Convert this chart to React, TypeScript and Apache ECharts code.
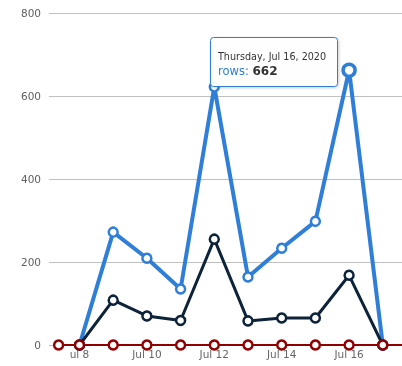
import React, { useEffect, useRef } from "react";
import * as echarts from "echarts";

const days = [8, 9, 10, 11, 12, 13, 14, 15, 16, 17];
const rows = [0, 272, 209, 135, 622, 164, 233, 298, 662, 0];
const darkSeries = [0, 108, 70, 59, 255, 58, 65, 65, 168, 0];
const redDays = [7.38, 8, 9, 10, 11, 12, 13, 14, 15, 16, 17, 18];
const redValues = [0, 0, 0, 0, 0, 0, 0, 0, 0, 0, 0, 0];
const tickDays = [8, 10, 12, 14, 16];
const yTicks = [0, 200, 400, 600, 800];
const tooltipDate = "Thursday, Jul 16, 2020";
const tooltipLabel = "rows: ";
const tooltipValue = "662";
const highlightDay = 16;

export default function App() {
  const ref = useRef<HTMLDivElement>(null);
  useEffect(() => {
    const chart = echarts.init(ref.current!, null, { renderer: "svg" });
    const font = "DejaVu Sans, Verdana, sans-serif";
    const pair = (xs: number[], ys: number[]) => xs.map((x, i) => [x, ys[i]]);
    chart.setOption({
      animation: false,
      grid: { left: 49, right: 0, top: 13, bottom: 21 },
      xAxis: {
        type: "value",
        min: 7.095,
        max: 17.57,
        axisLine: { show: false },
        axisTick: { show: false },
        splitLine: { show: false },
        axisLabel: {
          customValues: tickDays,
          margin: 3,
          color: "#666666",
          fontFamily: font,
          fontSize: 10.5,
          formatter: (v: number) => (v === 8 ? "ul 8" : "Jul " + v),
        },
      },
      yAxis: {
        type: "value",
        min: yTicks[0],
        max: yTicks[yTicks.length - 1],
        interval: 200,
        axisLine: { show: false },
        axisTick: { show: false },
        splitLine: { lineStyle: { color: "#c0c0c0", width: 1 } },
        axisLabel: { color: "#606060", fontFamily: font, fontSize: 10.5, margin: 8 },
      },
      series: [
        {
          type: "line",
          data: pair(days, rows).map((p) =>
            p[0] === highlightDay
              ? { value: p, symbolSize: 12, itemStyle: { borderWidth: 3.5 } }
              : p
          ),
          lineStyle: { color: "#2f7ed8", width: 4 },
          itemStyle: { color: "#ffffff", borderColor: "#2f7ed8", borderWidth: 2.5 },
          symbol: "circle",
          symbolSize: 9,
          showAllSymbol: true,
          z: 2,
        },
        {
          type: "line",
          data: pair(days, darkSeries),
          lineStyle: { color: "#0d233a", width: 3 },
          itemStyle: { color: "#ffffff", borderColor: "#0d233a", borderWidth: 2.5 },
          symbol: "circle",
          symbolSize: 9,
          showAllSymbol: true,
          z: 3,
        },
        {
          type: "line",
          data: pair(redDays, redValues),
          lineStyle: { color: "#910000", width: 2 },
          itemStyle: { color: "#ffffff", borderColor: "#910000", borderWidth: 2.5 },
          symbol: "circle",
          symbolSize: 9,
          showAllSymbol: true,
          z: 4,
        },
      ],
      graphic: [
        {
          type: "rect",
          shape: { x: 210.5, y: 37.5, width: 127, height: 49, r: 3 },
          style: {
            fill: "rgba(255,255,255,0.95)",
            stroke: "#2f7ed8",
            lineWidth: 1,
            shadowBlur: 3,
            shadowOffsetX: 1,
            shadowOffsetY: 1,
            shadowColor: "rgba(0,0,0,0.2)",
          },
          z: 100,
        },
        {
          type: "text",
          x: 218,
          y: 56,
          style: { text: tooltipDate, fill: "#333333", font: "9.6px " + font, verticalAlign: "middle" },
          z: 101,
        },
        {
          type: "text",
          x: 218,
          y: 71,
          style: {
            text: "{a|" + tooltipLabel + "}{b|" + tooltipValue + "}",
            verticalAlign: "middle",
            rich: {
              a: { fill: "#2f7ed8", font: "11.5px " + font },
              b: { fill: "#333333", font: "bold 12px " + font },
            },
          },
          z: 101,
        },
      ],
    });
    return () => chart.dispose();
  }, []);
  return <div ref={ref} style={{ position: "fixed", left: 0, top: 0, width: 402, height: 366 }} />;
}
